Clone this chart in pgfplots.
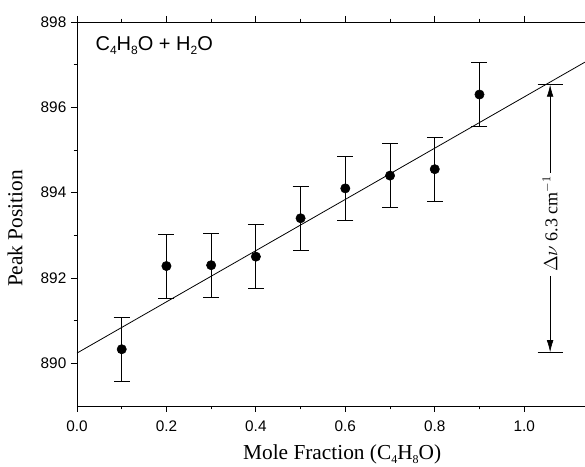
\documentclass[border=0pt]{standalone}
\usepackage{fontspec}
\setmainfont{Liberation Serif}
\newfontfamily\arial{Liberation Sans}
\usepackage{pgfplots}
\pgfplotsset{compat=1.18}
\usetikzlibrary{arrows.meta}
\newcommand{\sub}[1]{\raisebox{-0.4ex}{\fontsize{9}{10}\selectfont #1}}
\begin{document}
\begin{tikzpicture}
\begin{axis}[
  scale only axis, width=381pt, height=288pt,
  xmin=0, xmax=1.136, ymin=889, ymax=898,
  axis x line*=box, axis y line*=left,
  axis line style={line width=0.6pt},
  xtick={0,0.2,0.4,0.6,0.8,1.0}, ytick={890,892,894,896,898},
  minor x tick num=1, minor y tick num=1,
  tick align=outside, major tick length=4.5pt, minor tick length=2.5pt,
  tick style={black, line width=0.6pt},
  /pgf/number format/assume math mode=true,
  xticklabel style={font=\arial\fontsize{11.5}{13}\selectfont, yshift=-3pt, /pgf/number format/.cd, fixed, fixed zerofill, precision=1},
  yticklabel style={font=\arial\fontsize{11.5}{13}\selectfont, /pgf/number format/.cd, fixed, 1000 sep={}},
  xlabel={Mole Fraction (C\sub{4}H\sub{8}O)},
  ylabel={Peak Position},
  xlabel style={font=\fontsize{16}{19}\selectfont, at={(axis description cs:0.522,-0.125)}, anchor=center},
  ylabel style={font=\fontsize{16}{19}\selectfont, at={(axis description cs:-0.122,0.462)}, anchor=center},
  clip=true,
]
\addplot[black, line width=0.6pt] coordinates {(0,890.24) (1.136,897.06)};
\addplot[black, only marks, mark=*, mark size=3.5pt,
  error bars/.cd, y dir=both, y explicit,
  error bar style={black, line width=0.6pt},
  error mark options={rotate=90, mark size=6pt, line width=0.6pt, black}]
  coordinates {
  (0.1,890.33) +- (0,0.75)
  (0.2,892.28) +- (0,0.75)
  (0.3,892.30) +- (0,0.75)
  (0.4,892.50) +- (0,0.75)
  (0.5,893.40) +- (0,0.75)
  (0.6,894.10) +- (0,0.75)
  (0.7,894.40) +- (0,0.75)
  (0.8,894.55) +- (0,0.75)
  (0.9,896.30) +- (0,0.75)
  };
\draw[line width=0.6pt] (axis cs:1.03,896.53) -- (axis cs:1.086,896.53);
\draw[line width=0.6pt] (axis cs:1.03,890.26) -- (axis cs:1.086,890.26);
\draw[line width=0.5pt, -{Latex[length=9pt,width=5pt]}] (axis cs:1.058,894.47) -- (axis cs:1.058,896.53);
\draw[line width=0.5pt, -{Latex[length=9pt,width=5pt]}] (axis cs:1.058,892.05) -- (axis cs:1.058,890.26);
\node[rotate=90, font=\fontsize{13.5}{15}\selectfont] at (axis cs:1.058,893.27) {$\Delta\nu$ 6.3 cm$^{-1}$};
\node[anchor=base west, font=\arial\fontsize{15}{18}\selectfont, inner sep=0pt] at (axis cs:0.041,897.34) {C\sub{4}H\sub{8}O + H\sub{2}O};
\end{axis}
\pgfresetboundingbox
\useasboundingbox ([xshift=-57.75pt,yshift=-45.75pt]current axis.south west) rectangle ([yshift=16.5pt]current axis.north east);
\end{tikzpicture}
\end{document}
